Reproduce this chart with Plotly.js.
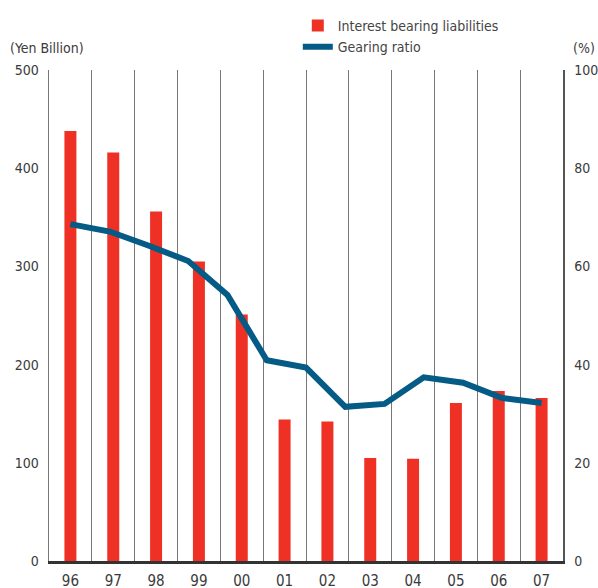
<!DOCTYPE html>
<html>
<head>
<meta charset="utf-8">
<script src="https://cdn.plot.ly/plotly-3.0.1.min.js"></script>
<style>
  html, body { margin: 0; padding: 0; background: #fff; }
  #chart { width: 598px; height: 588px; }
</style>
</head>
<body>
<div id="chart"></div>
<script>
// Fiscal years (category labels)
const years = ["96", "97", "98", "99", "00", "01", "02", "03", "04", "05", "06", "07"];
// Interest bearing liabilities (Yen Billion)
const liabilities = [438, 416, 356, 305, 251, 144, 142, 105, 104, 161, 173, 166];
// Gearing ratio (%) — the plotted line has 13 points spread evenly over the chart width
const gearingIndex = [0, 1, 2, 3, 4, 5, 6, 7, 8, 9, 10, 11, 12];
const gearing = [68.6, 67.1, 64.2, 61.1, 54.2, 40.9, 39.4, 31.4, 32.0, 37.4, 36.3, 33.2, 32.2];

const leftTicks = [0, 100, 200, 300, 400, 500];
const rightTicks = [0, 20, 40, 60, 80, 100];

const FONT = '"DejaVu Sans Condensed", "Liberation Sans Narrow", sans-serif';
const TXT = '#3a3a3a';

const traces = [
  {
    type: 'bar',
    name: 'Interest bearing liabilities',
    x: years,
    y: liabilities,
    xaxis: 'x',
    yaxis: 'y',
    width: 0.28,
    marker: { color: '#ee3124' },
    hoverinfo: 'x+y'
  },
  {
    type: 'scatter',
    mode: 'lines',
    name: 'Gearing ratio',
    x: gearingIndex,
    y: gearing,
    xaxis: 'x2',
    yaxis: 'y2',
    line: { color: '#045b85', width: 6 },
    hoverinfo: 'y'
  }
];

const nCat = years.length;
const layout = {
  width: 598,
  height: 588,
  margin: { l: 49, r: 35, t: 70, b: 27, pad: 0, autoexpand: false },
  paper_bgcolor: '#ffffff',
  plot_bgcolor: '#ffffff',
  font: { family: FONT, size: 14, color: TXT },
  showlegend: true,
  legend: {
    xref: 'container', yref: 'container',
    x: 0.498, xanchor: 'left',
    y: 0.983, yanchor: 'top',
    bgcolor: 'rgba(0,0,0,0)',
    font: { family: FONT, size: 14, color: '#444' },
    tracegroupgap: 0
  },
  xaxis: {
    type: 'category',
    range: [-0.5, nCat - 0.5],
    tickson: 'boundaries',
    ticks: '',
    ticklabelstandoff: 4,
    showgrid: true,
    gridcolor: '#777777',
    gridwidth: 1,
    showline: true,
    linecolor: '#333333',
    linewidth: 2.5,
    tickfont: { family: FONT, size: 15, color: TXT },
    fixedrange: true
  },
  xaxis2: {
    overlaying: 'x',
    range: [-6 / 11, 12 + 6 / 11],
    visible: false,
    fixedrange: true
  },
  yaxis: {
    range: [0, 500],
    tickvals: leftTicks,
    ticktext: leftTicks.map(String),
    ticks: '',
    ticklabelstandoff: 6,
    showgrid: false,
    zeroline: false,
    showline: true,
    linecolor: '#777777',
    linewidth: 1.5,
    tickfont: { family: FONT, size: 14, color: TXT },
    fixedrange: true
  },
  yaxis2: {
    overlaying: 'y',
    side: 'right',
    range: [0, 100],
    tickvals: rightTicks,
    ticktext: rightTicks.map(String),
    ticks: '',
    ticklabelstandoff: 7,
    showgrid: false,
    zeroline: false,
    showline: true,
    linecolor: '#555555',
    linewidth: 1.5,
    tickfont: { family: FONT, size: 14, color: TXT },
    fixedrange: true
  },
  annotations: [
    {
      text: '(Yen Billion)',
      xref: 'paper', yref: 'paper',
      x: -0.08, y: 1.044,
      xanchor: 'left', yanchor: 'middle',
      showarrow: false,
      font: { family: FONT, size: 14, color: TXT }
    },
    {
      text: '(%)',
      xref: 'paper', yref: 'paper',
      x: 1.066, y: 1.044,
      xanchor: 'right', yanchor: 'middle',
      showarrow: false,
      font: { family: FONT, size: 14, color: TXT }
    },
    {
      text: '<b>Interest-bearing Liabilities and Gearing Ratio</b>',
      xref: 'paper', yref: 'paper',
      x: 0.072, y: 1.138,
      xanchor: 'left', yanchor: 'bottom',
      showarrow: false,
      font: { family: '"DejaVu Sans Condensed", sans-serif', size: 15, color: '#222' }
    }
  ]
};

Plotly.newPlot('chart', traces, layout, { displayModeBar: false, staticPlot: true });
</script>
</body>
</html>
